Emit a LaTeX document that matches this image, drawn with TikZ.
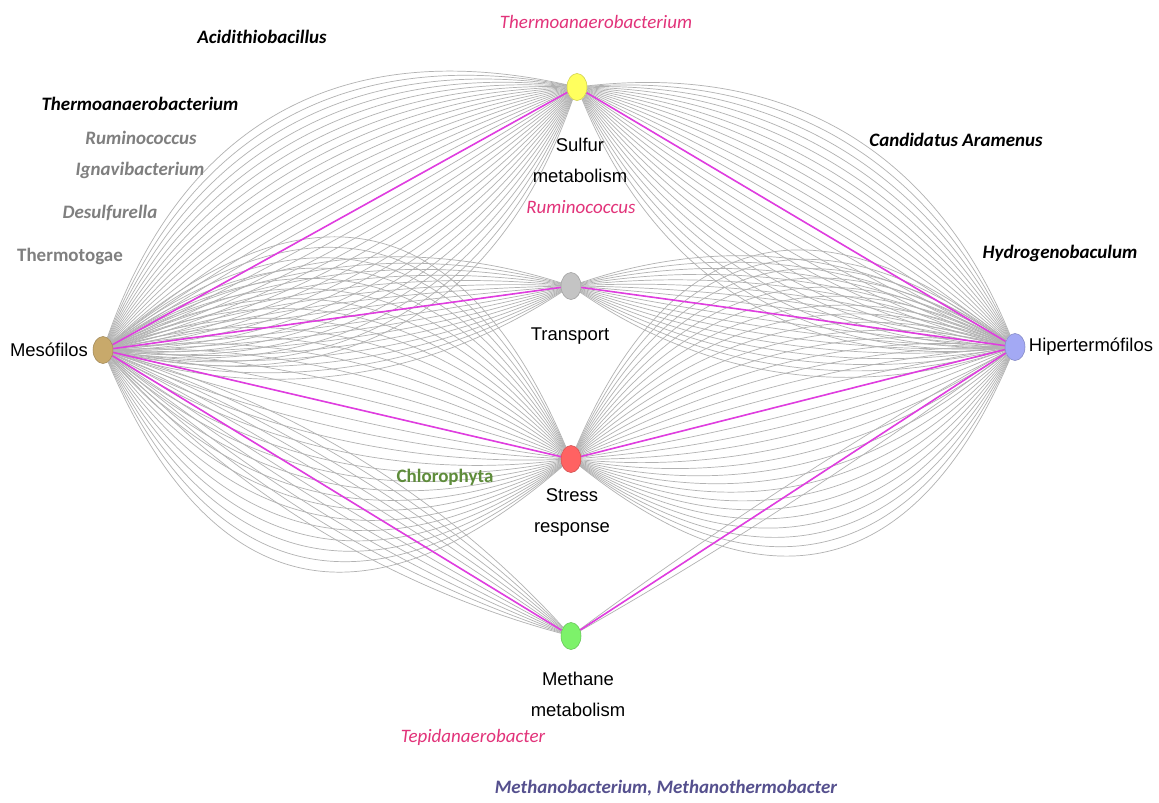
\documentclass[tikz,border=0pt]{standalone}
\usepackage{fontspec}
\setmainfont{Liberation Sans}
\newfontfamily\taxfont{Carlito}
\usetikzlibrary{calc,backgrounds,shapes.geometric}
\definecolor{mesocol}{HTML}{C8A96B}
\definecolor{hipercol}{HTML}{A3A9F4}
\definecolor{sulfcol}{HTML}{FFFF5E}
\definecolor{transcol}{HTML}{C4C4C4}
\definecolor{stresscol}{HTML}{FF6262}
\definecolor{methcol}{HTML}{7DF26A}
\definecolor{link}{HTML}{E03CE0}
\definecolor{taxpink}{HTML}{E2337A}
\definecolor{taxgray}{HTML}{7F7F7F}
\definecolor{taxgreen}{HTML}{5E8C3A}
\definecolor{taxviolet}{HTML}{55508E}

\begin{document}
\begin{tikzpicture}[x=0.02cm, y=-0.02cm,
  dot/.style={ellipse, draw=#1!80!black, fill=#1, line width=0.3pt,
    minimum width=0.4cm, minimum height=0.54cm, inner sep=0pt},
  fanline/.style={draw=gray!60, line width=0.4pt},
  hit/.style={draw=link, line width=0.9pt},
  lbl/.style={font=\fontsize{10.5}{17.6}\selectfont, align=center, inner sep=0pt},
  tax/.style={font=\taxfont\bfseries\itshape\fontsize{10.8}{13}\selectfont, inner sep=0pt},
  taxup/.style={font=\taxfont\bfseries\fontsize{10.8}{13}\selectfont, inner sep=0pt},
  taxhit/.style={font=\taxfont\itshape\fontsize{10.8}{13}\selectfont, inner sep=0pt, text=taxpink}]
  \useasboundingbox (0,0) rectangle (1159,802);

  % functions and groups
  \node[dot=mesocol] (mes) at (103,350) {};
  \node[dot=hipercol] (hip) at (1015,347) {};
  \node[dot=sulfcol] (sul) at (577,87) {};
  \node[dot=transcol] (tra) at (571,286) {};
  \node[dot=stresscol] (str) at (571,459) {};
  \node[dot=methcol] (met) at (571,636) {};

  \node[lbl] (meslbl) at (49,350) {Mesófilos};
  \node[lbl] (hiplbl) at (1091,347) {Hipertermófilos};
  \node[lbl] (sullbl) at (580,160) {Sulfur\\metabolism};
  \node[lbl] (tralbl) at (570,336) {Transport};
  \node[lbl] (strlbl) at (572,512) {Stress\\response};
  \node[lbl] (metlbl) at (578,694) {Methane\\metabolism};

  % taxa
  \node[tax] (acid) at (262,37) {Acidithiobacillus};
  \node[tax] (therm) at (140,104) {Thermoanaerobacterium};
  \node[tax, text=taxgray] (rumi) at (141,138) {Ruminococcus};
  \node[tax, text=taxgray] (igna) at (140,170) {Ignavibacterium};
  \node[tax, text=taxgray] (desu) at (110,213) {Desulfurella};
  \node[taxup, text=taxgray] (toga) at (70,256) {Thermotogae};
  \node[taxhit] (thermhit) at (596,22) {Thermoanaerobacterium};
  \node[taxhit] (rumihit) at (581,207) {Ruminococcus};
  \node[tax] (cand) at (956,140) {Candidatus Aramenus};
  \node[tax] (hydro) at (1060,253) {Hydrogenobaculum};
  \node[taxup, text=taxgreen] (chlo) at (445,477) {Chlorophyta};
  \node[taxhit] (tepi) at (473,737) {Tepidanaerobacter};
  \node[tax, text=taxviolet] (metha) at (666,788) {Methanobacterium, Methanothermobacter};

  \begin{scope}[on background layer]
    \fill[white] (0,0) rectangle (1159,802);
    \foreach \a/\b/\k/\st in {mes/sul/15/8, mes/tra/8/7, mes/str/15/11, mes/met/5/8,
                              hip/sul/12/8, hip/tra/8/7, hip/str/15/10, hip/met/1/8}{
      \foreach \i in {-\k,...,\k}{
        \pgfmathsetmacro\h{\i*\st*0.02667}
        \draw[fanline] (\a) .. controls ($(\a)!1/3!(\b)!\h cm!90:(\b)$)
          and ($(\a)!2/3!(\b)!\h cm!90:(\b)$) .. (\b);
      }
    }
    \foreach \a in {sul,tra,str,met}{
      \draw[hit] (mes) -- (\a);
      \draw[hit] (hip) -- (\a);
    }
  \end{scope}
\end{tikzpicture}
\end{document}
